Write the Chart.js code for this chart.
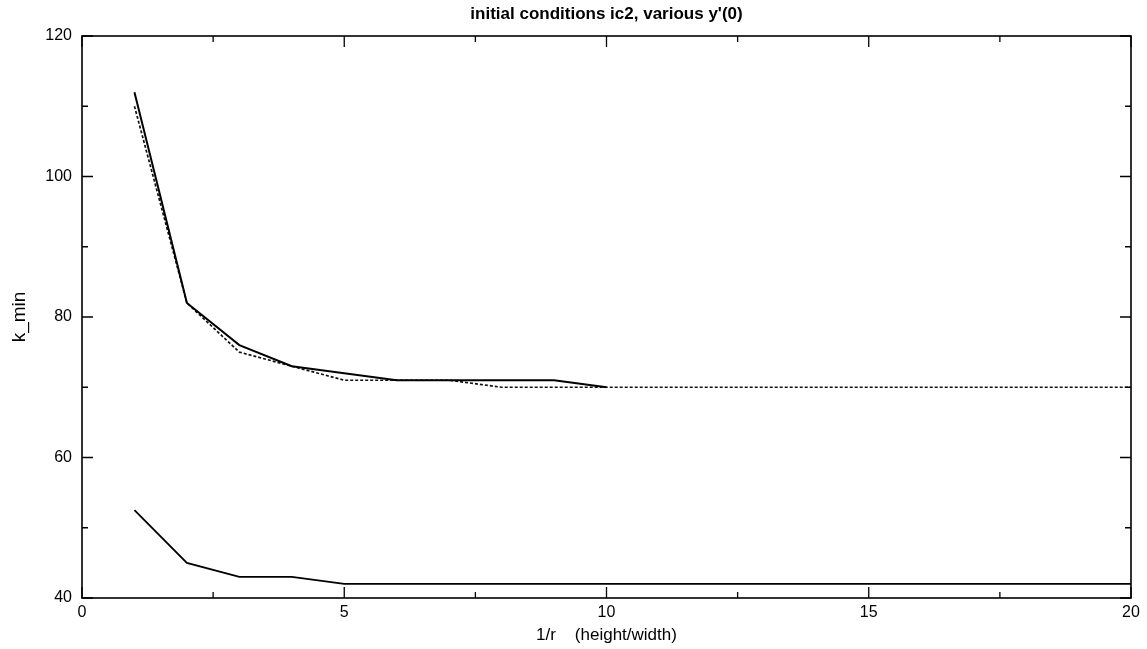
<!DOCTYPE html>
<html>
<head>
<meta charset="utf-8">
<script src="https://cdn.jsdelivr.net/npm/chart.js@4"></script>
<style>
html,body{margin:0;padding:0;background:#fff;}
#wrap{width:1147px;height:649px;position:relative;}
</style>
</head>
<body>
<div id="wrap"><canvas id="c" width="1147" height="649"></canvas></div>
<script>
const xValues = [1,2,3,4,5,6,7,8,9,10,11,12,13,14,15,16,17,18,19,20];
const upperSolidX = [1,2,3,4,5,6,7,8,9,10];
const upperSolid = [112,82,76,73,72,71,71,71,71,70];
const upperDashed = [110,82,75,73,71,71,71,70,70,70,70,70,70,70,70,70,70,70,70,70];
const lowerSolid = [52.5,45,43,43,42,42,42,42,42,42,42,42,42,42,42,42,42,42,42,42];
const xMajorTicks = [0,5,10,15,20];
const xMinorTicks = [2.5,7.5,12.5,17.5];
const yMajorTicks = [40,60,80,100,120];
const yMinorTicks = [50,70,90,110];
const titleText = "initial conditions ic2, various y'(0)";
const xTitle = "1/r    (height/width)";
const yTitle = "k_min";

const pts = (xs,arr) => xs.map((x,i)=>({x:x,y:arr[i]}));
const FONT = "'Liberation Sans', Arial, Helvetica, sans-serif";

const framePlugin = {
  id:'frame',
  afterDatasetsDraw(chart){
    const {ctx, chartArea:a, scales:{x,y}} = chart;
    ctx.save();
    ctx.strokeStyle = '#000';
    ctx.lineWidth = 1.6;
    ctx.strokeRect(a.left, a.top, a.right-a.left, a.bottom-a.top);
    ctx.lineWidth = 1.3;
    ctx.beginPath();
    const tx = (v,len)=>{const p=x.getPixelForValue(v);ctx.moveTo(p,a.bottom);ctx.lineTo(p,a.bottom-len);ctx.moveTo(p,a.top);ctx.lineTo(p,a.top+len);};
    const ty = (v,len)=>{const p=y.getPixelForValue(v);ctx.moveTo(a.left,p);ctx.lineTo(a.left+len,p);ctx.moveTo(a.right,p);ctx.lineTo(a.right-len,p);};
    xMajorTicks.forEach(v=>tx(v,11));
    xMinorTicks.forEach(v=>tx(v,6));
    yMajorTicks.forEach(v=>ty(v,11));
    yMinorTicks.forEach(v=>ty(v,6));
    ctx.stroke();
    // title centred over the plot area
    ctx.fillStyle = '#000';
    ctx.font = 'bold 17px ' + FONT;
    ctx.textAlign = 'center';
    ctx.textBaseline = 'middle';
    ctx.fillText(titleText, (a.left+a.right)/2, 14);
    ctx.restore();
  }
};

new Chart(document.getElementById('c'), {
  type:'line',
  data:{
    datasets:[
      {data:pts(upperSolidX,upperSolid), borderColor:'#000', borderWidth:2, pointRadius:0, tension:0, fill:false},
      {data:pts(xValues,upperDashed), borderColor:'#111', borderWidth:1.7, borderDash:[3,2], pointRadius:0, tension:0, fill:false},
      {data:pts(xValues,lowerSolid), borderColor:'#000', borderWidth:1.8, pointRadius:0, tension:0, fill:false}
    ]
  },
  options:{
    responsive:false,
    animation:false,
    layout:{padding:{left:0,right:16,top:36,bottom:0}},
    plugins:{
      legend:{display:false},
      tooltip:{enabled:false},
      title:{display:false}
    },
    scales:{
      x:{
        type:'linear',min:0,max:20,
        ticks:{stepSize:5,color:'#000',font:{family:FONT,size:16},padding:5,maxRotation:0},
        grid:{display:false,drawTicks:false},
        border:{display:false},
        title:{display:true,text:xTitle,color:'#000',font:{family:FONT,size:17},padding:{top:0,bottom:3}},
        afterFit(s){s.height=51;}
      },
      y:{
        min:40,max:120,
        ticks:{stepSize:20,color:'#000',font:{family:FONT,size:16},padding:10},
        grid:{display:false,drawTicks:false},
        border:{display:false},
        title:{display:true,text:yTitle,color:'#000',font:{family:FONT,size:19},padding:{top:8,bottom:0}},
        afterFit(s){s.width=82;}
      }
    }
  },
  plugins:[framePlugin]
});
</script>
</body>
</html>
